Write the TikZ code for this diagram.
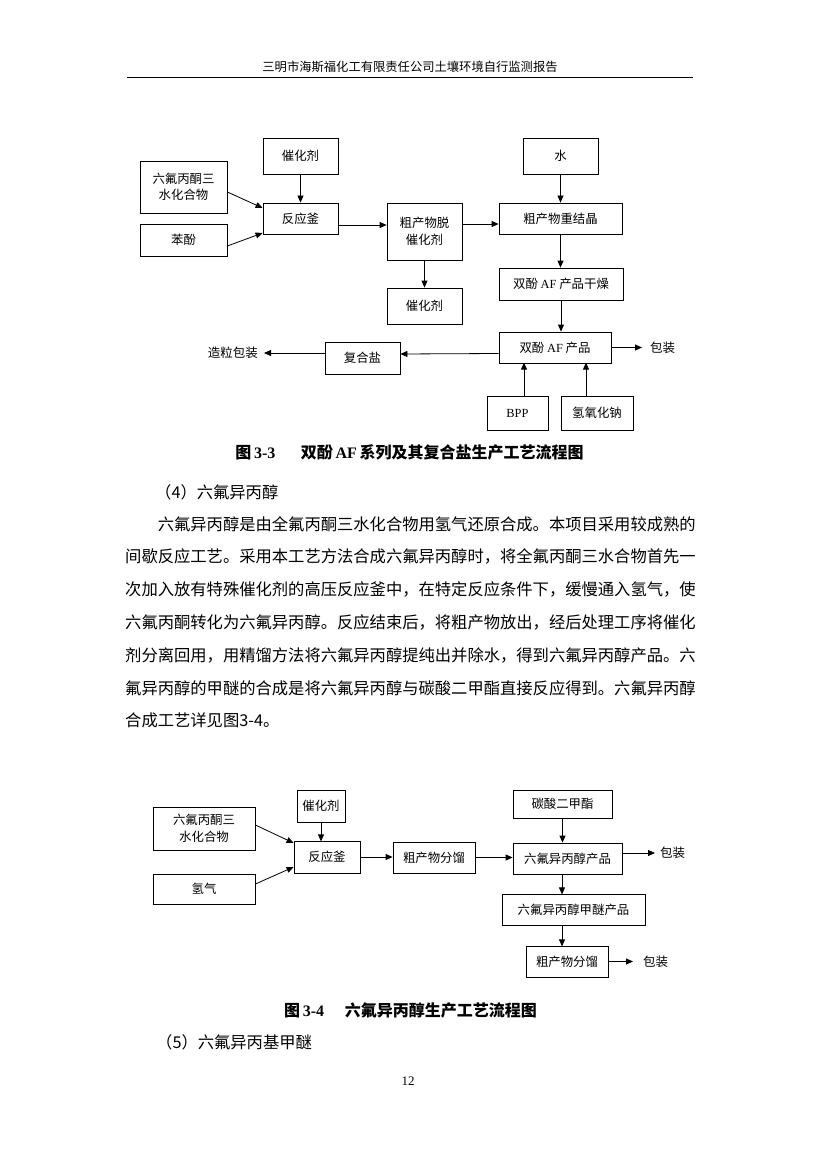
\documentclass[tikz,border=0pt]{standalone}
\usepackage{fontspec}
\setmainfont{Noto Sans CJK SC}
\newfontfamily\lat{Liberation Serif}
\usetikzlibrary{arrows.meta}

\tikzset{
  procbox/.style={draw, line width=0.8pt, inner sep=0pt, align=center,
    font=\fontsize{12.4}{16.5}\selectfont},
  arr/.style={line width=0.8pt, -{Triangle[length=7pt,width=6pt]}},
  outlbl/.style={inner sep=0pt, font=\fontsize{12.5}{15}\selectfont},
  bodyline/.style={anchor=west, inner sep=0pt, font=\fontsize{16.3}{16.3}\selectfont},
  capline/.style={inner sep=0pt, font=\bfseries\fontsize{16}{16}\selectfont},
}

\begin{document}
\begin{tikzpicture}[x=1pt, y=-1pt]
  \useasboundingbox (0,0) rectangle (819,1158);

  % page header
  \node[inner sep=0pt, font=\fontsize{12.3}{12.3}\selectfont] (hdr) at (410,67) {三明市海斯福化工有限责任公司土壤环境自行监测报告};
  \draw[line width=1.5pt] (127,77.5) -- (693,77.5);

  % figure 3-3
  \node[procbox, minimum width=75pt, minimum height=36pt] (cat1) at (300.5,156) {催化剂};
  \node[procbox, minimum width=87pt, minimum height=52pt] (hfa1) at (183.5,187) {六氟丙酮三\\水化合物};
  \node[procbox, minimum width=87pt, minimum height=32pt] (phen) at (183.5,240) {苯酚};
  \node[procbox, minimum width=75pt, minimum height=31pt] (reac1) at (300.5,218.5) {反应釜};
  \node[procbox, minimum width=75pt, minimum height=57pt] (decat) at (424.5,231.5) {粗产物脱\\催化剂};
  \node[procbox, minimum width=75pt, minimum height=36pt] (cat2) at (424.5,306) {催化剂};
  \node[procbox, minimum width=75pt, minimum height=36pt] (water) at (560.5,156) {水};
  \node[procbox, minimum width=123pt, minimum height=31pt] (recr) at (560.5,218.5) {粗产物重结晶};
  \node[procbox, minimum width=124pt, minimum height=32pt] (dry) at (561,284) {双酚 {\lat AF} 产品干燥};
  \node[procbox, minimum width=112pt, minimum height=31pt] (prod) at (555,347.5) {双酚 {\lat AF} 产品};
  \node[procbox, minimum width=75pt, minimum height=32pt] (salt) at (362.5,358) {复合盐};
  \node[procbox, minimum width=61pt, minimum height=34pt] (bpp) at (517.5,413) {{\lat BPP}};
  \node[procbox, minimum width=72pt, minimum height=34pt] (naoh) at (597,413) {氢氧化钠};
  \node[outlbl, anchor=west] (pack1) at (650,347.5) {包装};
  \node[outlbl, anchor=east] (gran) at (258,353) {造粒包装};
  \coordinate (pk1) at (642,347.5);
  \coordinate (gr1) at (264,353);

  \draw[arr] ([yshift=-5pt]hfa1.east) -- ([yshift=10.5pt]reac1.west);
  \draw[arr] ([yshift=-6pt]phen.east) -- ([yshift=-14.5pt]reac1.west);
  \draw[arr] (cat1.south) -- (reac1.north);
  \draw[arr] ([yshift=-6.5pt]reac1.east) -- ([yshift=6.5pt]decat.west);
  \draw[arr] ([yshift=7.5pt]decat.east) -- ([yshift=-5.5pt]recr.west);
  \draw[arr] (decat.south) -- (cat2.north);
  \draw[arr] (water.south) -- (recr.north);
  \draw[arr] (recr.south) -- (recr.south |- dry.north);
  \draw[arr] (dry.south) -- (dry.south |- prod.north);
  \draw[arr] (prod.east) -- (pk1);
  \draw[arr] ([yshift=-6pt]prod.west) -- ([yshift=4pt]salt.east);
  \draw[arr] ([yshift=5pt]salt.west) -- (gr1);
  \draw[arr] ([xshift=6.5pt]bpp.north) -- ++(0,-33);
  \draw[arr] ([xshift=-11pt]naoh.north) -- ++(0,-33);

  \node[capline] (cap1) at (409.5,452) {图\,{\lat\bfseries 3-3}\hspace{1.6em}双酚\,{\lat\bfseries AF}\,系列及其复合盐生产工艺流程图};

  % text
  \node[bodyline] (sec4) at (155,492) {（4）六氟异丙醇};
  \node[bodyline] (l1) at (157.6,524) {六氟异丙醇是由全氟丙酮三水化合物用氢气还原合成。本项目采用较成熟的};
  \node[bodyline] (l2) at (125,556.8) {间歇反应工艺。采用本工艺方法合成六氟异丙醇时，将全氟丙酮三水合物首先一};
  \node[bodyline] (l3) at (125,589.6) {次加入放有特殊催化剂的高压反应釜中，在特定反应条件下，缓慢通入氢气，使};
  \node[bodyline] (l4) at (125,622.4) {六氟丙酮转化为六氟异丙醇。反应结束后，将粗产物放出，经后处理工序将催化};
  \node[bodyline] (l5) at (125,655.2) {剂分离回用，用精馏方法将六氟异丙醇提纯出并除水，得到六氟异丙醇产品。六};
  \node[bodyline] (l6) at (125,688) {氟异丙醇的甲醚的合成是将六氟异丙醇与碳酸二甲酯直接反应得到。六氟异丙醇};
  \node[bodyline] (l7) at (125,720.8) {合成工艺详见图3-4。};

  % figure 3-4
  \node[procbox, minimum width=48pt, minimum height=32pt] (cat3) at (321,806) {催化剂};
  \node[procbox, minimum width=102pt, minimum height=43pt] (hfa2) at (204,828.5) {六氟丙酮三\\水化合物};
  \node[procbox, minimum width=102pt, minimum height=30pt] (h2) at (204,889) {氢气};
  \node[procbox, minimum width=66pt, minimum height=32pt] (reac2) at (327,857) {反应釜};
  \node[procbox, minimum width=82pt, minimum height=31pt] (crude2) at (434,857.5) {粗产物分馏};
  \node[procbox, minimum width=99pt, minimum height=28pt] (dmc) at (562.5,804) {碳酸二甲酯};
  \node[procbox, minimum width=109pt, minimum height=31pt] (hfip) at (567.5,858.5) {六氟异丙醇产品};
  \node[procbox, minimum width=143pt, minimum height=31pt] (ether) at (573.5,909.5) {六氟异丙醇甲醚产品};
  \node[procbox, minimum width=82pt, minimum height=31pt] (crude3) at (567,961.5) {粗产物分馏};
  \node[outlbl, anchor=west] (pack2) at (660,853) {包装};
  \node[outlbl, anchor=west] (pack3) at (643,961.5) {包装};
  \coordinate (pk2) at (655,853);
  \coordinate (pk3) at (633,961.5);

  \draw[arr] ([yshift=3.5pt]hfa2.east) -- ([yshift=14pt]reac2.west);
  \draw[arr] ([yshift=5pt]h2.east) -- ([yshift=-10pt]reac2.west);
  \draw[arr] (cat3.south) -- ++(0,19);
  \draw[arr] (reac2.east) -- (reac2.east -| crude2.west);
  \draw[arr] (crude2.east) -- (crude2.east -| hfip.west);
  \draw[arr] (dmc.south) -- (dmc.south |- hfip.north);
  \draw[arr] ([yshift=5.5pt]hfip.east) -- (pk2);
  \draw[arr] ([xshift=-5.5pt]hfip.south) -- ++(0,20);
  \draw[arr] ([xshift=-11.5pt]ether.south) -- ++(0,21);
  \draw[arr] (crude3.east) -- (pk3);

  \node[capline] (cap2) at (410.5,1010) {图\,{\lat\bfseries 3-4}\hspace{1.3em}六氟异丙醇生产工艺流程图};

  \node[bodyline] (sec5) at (156,1042) {（5）六氟异丙基甲醚};
  \node[inner sep=0pt, font=\lat\fontsize{13}{13}\selectfont] (pgno) at (408,1081) {12};
\end{tikzpicture}
\end{document}
